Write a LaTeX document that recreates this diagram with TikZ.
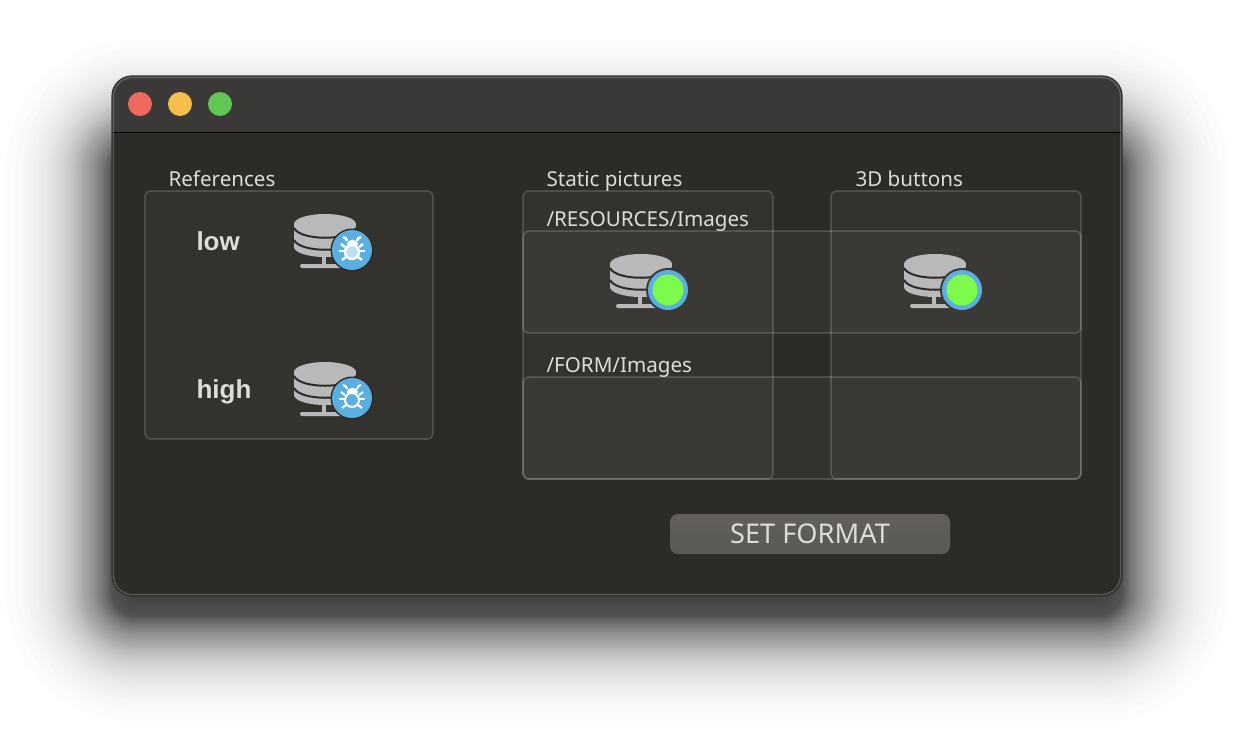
\documentclass[tikz,border=0pt]{standalone}
\usepackage{fontspec}
\setmainfont{Noto Sans}
\newfontfamily\levelfont{Liberation Sans}
\definecolor{winbg}{HTML}{2C2B27}
\definecolor{titlebg}{HTML}{3A3937}
\definecolor{labeltext}{HTML}{DCDCDA}
\definecolor{iconbase}{HTML}{B9B9B9}
\definecolor{badgeblue}{HTML}{5BAEE0}
\definecolor{ledgreen}{HTML}{7CFB4C}
\definecolor{btntop}{HTML}{625F5C}
\definecolor{btnbottom}{HTML}{5A5955}
\tikzset{
  panelbox/.style={draw=white,draw opacity=0.15,line width=0.9pt,rounded corners=3pt,fill=white,fill opacity=0.035},
  paneltext/.style={font=\fontsize{10.3}{12}\selectfont,text=labeltext,anchor=base west,inner sep=0pt},
  leveltext/.style={font=\levelfont\fontsize{13}{15}\selectfont\bfseries,text=labeltext,anchor=base west,inner sep=0pt},
  lamp/.style={circle,minimum size=12pt,inner sep=0pt},
}
% one layer of the shadow, #1 is how far it grows
\newcommand{\shadowlayer}[1]{%
  \fill[black,opacity=0.01,rounded corners=12pt+0.5pt*#1] (112-#1,146-#1) rectangle (1122+#1,616+#1);}
% database icon, #1 is the x and #2 the y of the top left of the stack
\newcommand{\dbicon}[2]{%
  \begin{scope}[shift={(#1,#2)}]
    \fill[iconbase] (31,10) ellipse[x radius=31,y radius=10];
    \fill[iconbase] (31,33) ellipse[x radius=31,y radius=10];
    \fill[iconbase] (0,10) rectangle (62,33);
    \draw[winbg,line width=1pt] (0,14) .. controls (6,27) and (56,27) .. (62,14);
    \draw[winbg,line width=1pt] (0,26) .. controls (6,39) and (56,39) .. (62,26);
    \fill[iconbase] (28,43) rectangle (32,51);
    \fill[iconbase,rounded corners=1pt] (6,50) rectangle (52,54);
  \end{scope}}
% bug badge, #1 and #2 are the centre, #3 the line width, #4 the body
\newcommand{\bugbadge}[4]{%
  \fill[winbg] (#1,#2) circle[radius=21.5];
  \fill[badgeblue] (#1,#2) circle[radius=20];
  \begin{scope}[shift={(#1,#2)},white,line width=#3]
    \draw[fill=#4] (0,2) circle[radius=7];
    \fill (-5.5,-5) .. controls (-5.5,-12) and (5.5,-12) .. (5.5,-5) -- cycle;
    \draw (-5,-9) .. controls (-6,-12) .. (-9,-13);
    \draw (5,-9) .. controls (6,-12) .. (9,-13);
    \draw (-7,-3) -- (-11,-6);
    \draw (7,-3) -- (11,-6);
    \draw (-8,1) -- (-13,1);
    \draw (8,1) -- (13,1);
    \draw (-6,7) -- (-10,10);
    \draw (6,7) -- (10,10);
  \end{scope}}
% green state badge
\newcommand{\ledbadge}[2]{%
  \fill[titlebg] (#1,#2) circle[radius=22];
  \fill[badgeblue] (#1,#2) circle[radius=20];
  \fill[ledgreen] (#1,#2) circle[radius=15.5];}
\begin{document}
\begin{tikzpicture}[x=0.5pt,y=-0.5pt,line width=0.5pt]
\useasboundingbox (0,0) rectangle (1234,744);
\fill[white] (0,0) rectangle (1234,744);
% window shadow
\foreach \i in {3,...,75} {
  \pgfmathsetmacro{\grow}{33*ln(75/\i)}
  \shadowlayer{\grow}
}
\foreach \i in {1,...,14} {
  \pgfmathsetmacro{\grow}{-1.2*\i}
  \shadowlayer{\grow}
}
\fill[winbg,rounded corners=10pt] (112,76) rectangle (1122,596);
\begin{scope}
  \clip[rounded corners=10pt] (112,76) rectangle (1122,596);
  \fill[titlebg] (112,76) rectangle (1122,132);
  \draw[black,line width=0.75pt] (112,132.5) -- (1122,132.5);
\end{scope}
\draw[black!80,line width=0.6pt,rounded corners=10pt] (112,76) rectangle (1122,596);
\draw[white,opacity=0.22,line width=0.6pt,rounded corners=9.5pt] (113.5,77.5) rectangle (1120.5,594.5);
\node[lamp,fill={rgb,255:red,238;green,106;blue,94}] (closelamp) at (140,104) {};
\node[lamp,fill={rgb,255:red,245;green,190;blue,79}] (minlamp) at (180,104) {};
\node[lamp,fill={rgb,255:red,98;green,197;blue,84}] (maxlamp) at (220,104) {};
% panels
\draw[panelbox] (145,191) rectangle (433,439);
\draw[panelbox] (523,191) rectangle (773,479);
\draw[panelbox] (831,191) rectangle (1081,479);
\draw[panelbox] (523,231) rectangle (1081,333);
\draw[panelbox] (523,377) rectangle (1081,479);
\node[paneltext] (references) at (168,186) {References};
\node[paneltext] (staticpics) at (546,186) {Static pictures};
\node[paneltext] (buttons3d) at (855,186) {3D buttons};
\node[paneltext] (resimages) at (546,226) {/RESOURCES/Images};
\node[paneltext] (formimages) at (546,372) {/FORM/Images};
\node[leveltext] (low) at (196,250) {low};
\node[leveltext] (high) at (196,398) {high};
% icons
\dbicon{294}{214}
\bugbadge{352}{250}{1.2pt}{badgeblue!40!white}
\dbicon{294}{362}
\bugbadge{352}{398}{1pt}{badgeblue}
\dbicon{610}{254}
\ledbadge{668}{290}
\dbicon{904}{254}
\ledbadge{962}{290}
% button
\node[top color=btntop,bottom color=btnbottom,rounded corners=4pt,minimum width=140pt,minimum height=20pt,inner sep=0pt,font=\fontsize{13.6}{15}\selectfont,text=labeltext] (setformat) at (810,534) {SET FORMAT};
\end{tikzpicture}
\end{document}
